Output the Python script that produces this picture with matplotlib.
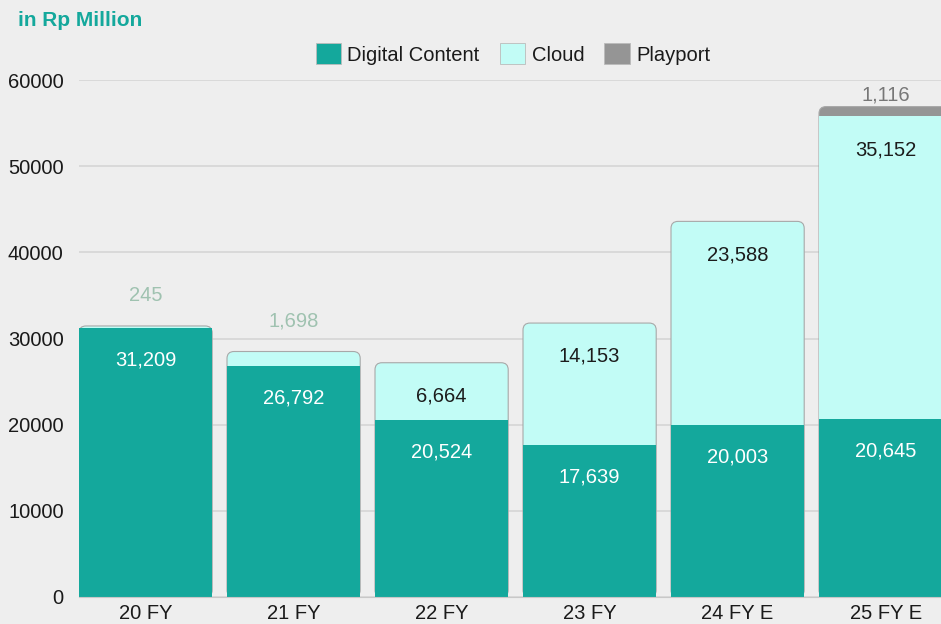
import numpy as np
import matplotlib.pyplot as plt
from matplotlib.patches import FancyBboxPatch, Patch

# data
years = ['20 FY', '21 FY', '22 FY', '23 FY', '24 FY E', '25 FY E']
digital = [31209, 26792, 20524, 17639, 20003, 20645]
cloud = [245, 1698, 6664, 14153, 23588, 35152]
playport = [0, 0, 0, 0, 0, 1116]

c_digital = '#14a89c'
c_cloud = '#c2fcf6'
c_play = '#959595'
bg = '#eeeeee'

plt.rcParams['font.family'] = ['Liberation Sans', 'DejaVu Sans']

W, H = 941, 624
fig = plt.figure(figsize=(W / 100, H / 100), dpi=100, facecolor=bg)
ax = fig.add_axes([79 / W, 27 / H, (W - 79) / W, (597 - 80) / H])
ax.set_facecolor(bg)

x = np.arange(len(years))
bw = 0.9
ax.set_xlim(-0.45, -0.45 + (W - 79) / 148)
ax.set_ylim(0, 60000)

# aspect so the rounded corners look round on screen
px_per_x = 148.0
px_per_y = 517.0 / 60000
aspect = px_per_x / px_per_y
rad = 7 / px_per_x

for i in range(len(years)):
    d, c, p = digital[i], cloud[i], playport[i]
    total = d + c + p
    top_col = c_play if p > 0 else c_cloud
    box = FancyBboxPatch((x[i] - bw / 2, 0), bw, total,
                         boxstyle='round,pad=0,rounding_size=%f' % rad,
                         mutation_aspect=aspect, facecolor=top_col,
                         edgecolor='#a8a8a8', linewidth=0.8, zorder=2)
    ax.add_patch(box)
    if p > 0:
        ax.bar(x[i], c, bw, bottom=d, color=c_cloud, linewidth=0, zorder=3)
    ax.bar(x[i], d, bw, color=c_digital, linewidth=0, zorder=4)

    # labels
    ax.annotate(f'{d:,}', (x[i], d), xytext=(0, -23), textcoords='offset points',
                ha='center', va='center', color='white', fontsize=14.5, zorder=6)
    if c > 3000:
        ax.annotate(f'{c:,}', (x[i], d + c), xytext=(0, -24), textcoords='offset points',
                    ha='center', va='center', color='#1c1c1c', fontsize=14.5, zorder=6)
    else:
        ax.annotate(f'{c:,}', (x[i], d + c), xytext=(0, 22), textcoords='offset points',
                    ha='center', va='center', color='#9fc2b0', fontsize=14.5, zorder=6)
    if p > 0:
        ax.annotate(f'{p:,}', (x[i], total), xytext=(0, 8), textcoords='offset points',
                    ha='center', va='center', color='#777777', fontsize=14.5, zorder=6)

ax.set_yticks(np.arange(0, 60001, 10000))
ax.set_xticks(x)
ax.set_xticklabels(years)
ax.tick_params(axis='y', length=0, pad=11, labelsize=14.5, labelcolor='#1a1a1a')
ax.tick_params(axis='x', length=0, pad=5, labelsize=14.5, labelcolor='#1a1a1a')
ax.grid(axis='y', color='#d3d3d3', linewidth=1.1, zorder=0)
ax.set_axisbelow(True)
for s in ['top', 'right', 'left']:
    ax.spines[s].set_visible(False)
ax.spines['bottom'].set_color('#c8c8c8')
ax.spines['bottom'].set_zorder(5)

fig.text(18 / W, 1 - 20 / H, 'in Rp Million', color='#14a89c', fontsize=15,
         fontweight='bold', ha='left', va='center')

handles = [Patch(facecolor=c_digital, edgecolor='#bbbbbb', linewidth=0.6, label='Digital Content'),
           Patch(facecolor=c_cloud, edgecolor='#bbbbbb', linewidth=0.6, label='Cloud'),
           Patch(facecolor=c_play, edgecolor='#bbbbbb', linewidth=0.6, label='Playport')]
fig.legend(handles=handles, loc='center', bbox_to_anchor=(513 / W, 1 - 54 / H), ncol=3,
           frameon=False, fontsize=14.5, handlelength=1.25, handleheight=1.2,
           handletextpad=0.33, columnspacing=1.0, labelcolor='#1a1a1a')

fig.savefig('out.png', dpi=100, facecolor=bg)
